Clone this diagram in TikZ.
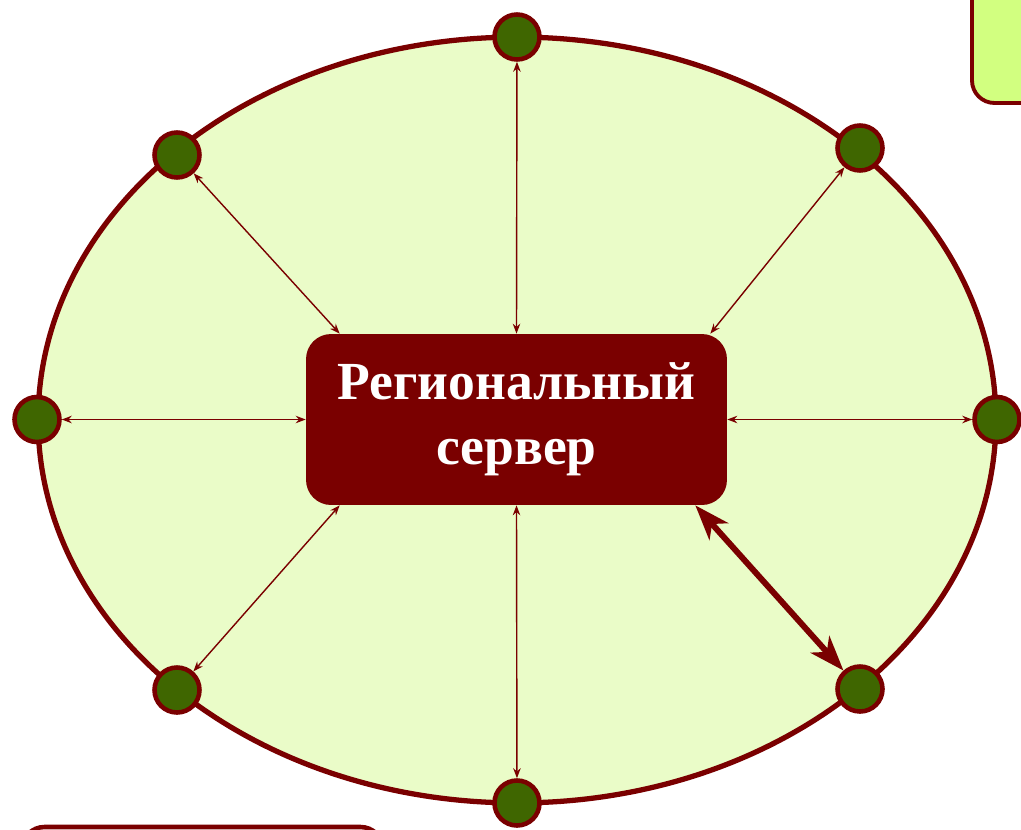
\documentclass[tikz,border=0pt]{standalone}
\usepackage{fontspec}
\setmainfont{Liberation Serif}
\usetikzlibrary{arrows.meta}

\definecolor{wine}{HTML}{7A0000}
\definecolor{field}{HTML}{EAFCC8}
\definecolor{leaf}{HTML}{3F6600}
\definecolor{lime}{HTML}{D2FF80}

\begin{document}
\begin{tikzpicture}[
    x=0.02cm, y=-0.02cm,
    server/.style={rounded corners=0.5cm, fill=wine, text=white, align=center, minimum width=8.42cm, minimum height=3.42cm, font=\bfseries\fontsize{30.5}{37}\selectfont},
    dot/.style={circle, draw=wine, line width=2.6pt, fill=leaf, minimum size=0.9cm, inner sep=0pt},
    link/.style={{Stealth[length=2mm,width=1.5mm]}-{Stealth[length=2mm,width=1.5mm]}, wine, line width=0.8pt},
    biglink/.style={{Stealth[length=7mm,width=5mm,inset=2mm]}-{Stealth[length=7mm,width=5mm,inset=2mm]}, wine, line width=3.4pt}
  ]
    \useasboundingbox (0,0) rectangle (1021,829);
    \clip (0,0) rectangle (1021,829);

    % side panels, cut by the page
    \draw[wine, line width=2.2pt, fill=lime, rounded corners=0.45cm] (972,-40) rectangle (1080,103);
    \draw[wine, line width=2.6pt, fill=white, rounded corners=0.45cm] (22,827) rectangle (383,900);

    % region
    \draw[wine, line width=3pt, fill=field] (517,420) ellipse [x radius=9.58cm, y radius=7.66cm];

    \node[server] (srv) at (516.5,419.5) {Региональный\\сервер};

    \node[dot] (top) at (517,37) {};
    \node[dot] (topleft) at (177,155) {};
    \node[dot] (topright) at (860,148) {};
    \node[dot] (left) at (37,419.5) {};
    \node[dot] (right) at (997,419.5) {};
    \node[dot] (botleft) at (177,690) {};
    \node[dot] (botright) at (860,689) {};
    \node[dot] (bot) at (517,803) {};

    \draw[link] (top) -- (srv.north);
    \draw[link] (topleft) -- ([xshift=0.68cm]srv.north west);
    \draw[link] (topright) -- ([xshift=-0.34cm]srv.north east);
    \draw[link] (left) -- (srv.west);
    \draw[link] (right) -- (srv.east);
    \draw[link] (botleft) -- ([xshift=0.68cm]srv.south west);
    \draw[link] (bot) -- (srv.south);
    \draw[biglink] ([xshift=-0.64cm]srv.south east) -- (botright);
  \end{tikzpicture}
\end{document}
